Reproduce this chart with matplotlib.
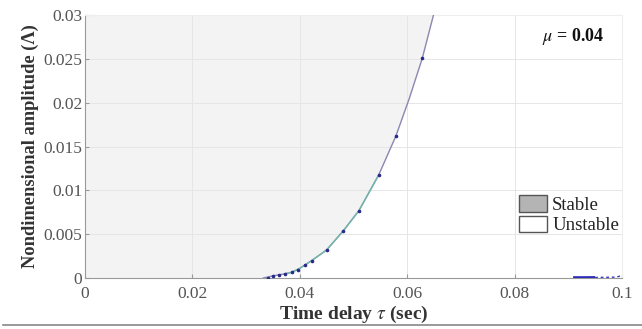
import matplotlib
matplotlib.use("Agg")
import matplotlib.pyplot as plt
from matplotlib.patches import Patch
from matplotlib.lines import Line2D
import numpy as np

# Stability boundary (time delay vs amplitude)
tau = [0.0332, 0.0351, 0.0370, 0.0385, 0.0400, 0.0410, 0.0422, 0.0450, 0.0481,
       0.0510, 0.0547, 0.0579, 0.0604, 0.0628, 0.0649]
amp = [0.0, 0.00026, 0.00045, 0.00065, 0.0011, 0.0015, 0.00198, 0.0032, 0.00538,
       0.00767, 0.01176, 0.0162, 0.0205, 0.02504, 0.0300]
marker_tau = [0.0340, 0.0351, 0.0362, 0.0373, 0.0385, 0.0396, 0.0410, 0.0422,
              0.0450, 0.0481, 0.0510, 0.0547, 0.0579, 0.0628]
marker_amp = [0.00005, 0.00026, 0.00035, 0.00048, 0.00065, 0.0009, 0.0015, 0.00198,
              0.0032, 0.00538, 0.00767, 0.01176, 0.0162, 0.02504]
# Second branch near tau = 0.1
tau2 = [0.0909, 0.0930, 0.0950, 0.0970, 0.0990, 0.1000]
amp2 = [0.00005, 0.00005, 0.00006, 0.00008, 0.0001, 0.0003]

xticks = [0, 0.02, 0.04, 0.06, 0.08, 0.1]
xticklabels = ["0", "0.02", "0.04", "0.06", "0.08", "0.1"]
yticks = [0, 0.005, 0.01, 0.015, 0.02, 0.025, 0.03]
yticklabels = ["0", "0.005", "0.01", "0.015", "0.02", "0.025", "0.03"]

plt.rcParams['font.family'] = ['Liberation Serif', 'DejaVu Serif']
plt.rcParams['mathtext.fontset'] = 'stix'

fig = plt.figure(figsize=(6.42, 3.29), dpi=100)
ax = fig.add_axes([0.1324, 0.155, 0.8364, 0.7994])

# stable region: left of boundary
ax.fill_betweenx(amp, 0, tau, color='#f3f3f3', lw=0, zorder=0)

ax.plot(tau, amp, color='#8a88b4', lw=1.0, zorder=3)
ax.plot(tau[2:11], amp[2:11], color='#6fb8a8', lw=1.0, zorder=3)
ax.plot(marker_tau, marker_amp, ls='none', marker='o', ms=1.6, color='#2a2a8a', zorder=4)
ax.plot(tau2[:3], amp2[:3], color='#2b2bb8', lw=2.0, zorder=4, solid_capstyle='butt')
ax.plot(tau2[2:], amp2[2:], color='#3a3ac0', lw=1.0, ls=(0, (2, 2)), zorder=4)

ax.set_xlim(0, 0.1)
ax.set_ylim(0, 0.03)
ax.set_xticks(xticks)
ax.set_xticklabels(xticklabels)
ax.set_yticks(yticks)
ax.set_yticklabels(yticklabels)
ax.grid(True, color='#e6e6e6', lw=0.7)
ax.set_axisbelow(True)
ax.tick_params(direction='in', length=3, colors='#999999', labelcolor='#555555', labelsize=12.5)
ax.tick_params(axis='y', pad=2)
ax.tick_params(axis='x', pad=6)
for s in ['left', 'bottom']:
    ax.spines[s].set_color('#999999')
for s in ['top', 'right']:
    ax.spines[s].set_color('#eeeeee')

ax.set_xlabel(r"Time delay $\tau$ (sec)", fontsize=14, fontweight='bold', color='#333333', labelpad=1)
ax.set_ylabel("Nondimensional amplitude (Λ)", fontsize=13.3, fontweight='bold', color='#333333', labelpad=3)

ax.text(0.968, 0.92, r"$\mu$ = 0.04", fontsize=13, fontweight='bold',
        ha='right', va='center', color='#111111', transform=ax.transAxes)

handles = [Patch(facecolor='#b4b4b4', edgecolor='#555555', lw=1.0, label='Stable'),
           Patch(facecolor='white', edgecolor='#555555', lw=1.0, label='Unstable')]
leg = ax.legend(handles=handles, loc='lower right', bbox_to_anchor=(1.012, 0.13),
                frameon=False, fontsize=13.5, handlelength=1.5, handleheight=1.0,
                handletextpad=0.25, labelspacing=0.1, borderaxespad=0.1)
for t in leg.get_texts():
    t.set_color('#222222')

fig.add_artist(Line2D([0.005, 1.0], [0.012, 0.012], color='#888888', lw=1.2))

fig.savefig("out.png", dpi=100)
